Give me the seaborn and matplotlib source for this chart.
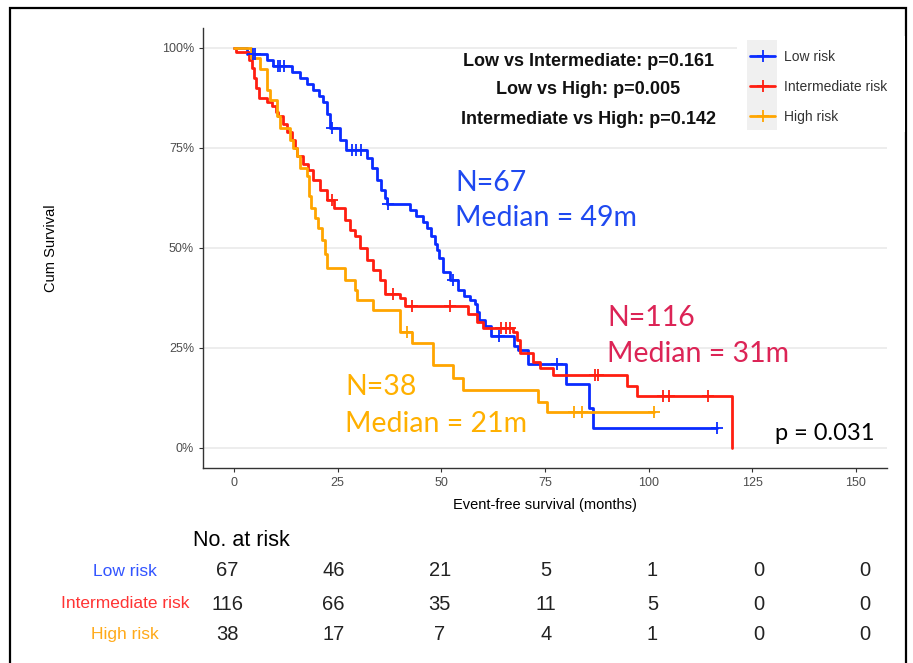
import numpy as np
import pandas as pd
import matplotlib.pyplot as plt
import seaborn as sns
from matplotlib.lines import Line2D
from matplotlib.patches import Rectangle

# Kaplan-Meier step points (time in months, survival in %)
low_t = [0, 3, 8, 9.5, 14, 16, 17.5, 19, 20.5, 21.5, 22.5, 23.2, 25.5, 27, 32, 33.3, 34.5, 35.5,
         36.5, 37, 42.5, 44, 45.5, 46.5, 47.5, 48.5, 49, 49.5, 50.3, 52, 54, 55.5, 57, 58, 58.5,
         59, 60.5, 62, 67.5, 68.5, 71, 80, 85.5, 86.5]
low_s = [100, 98.5, 97, 95.5, 94, 92.5, 91, 89.5, 88, 86.5, 83.5, 80, 77, 74.5, 72.5, 70, 67, 64.5,
         62.5, 61, 59.5, 58, 56.5, 55, 53, 51, 49.5, 47.5, 44, 42, 39.5, 38, 37, 36, 34,
         32, 30.5, 28, 25.5, 24.5, 21, 16, 10, 5]
low_end = 116.5
low_cens = [4.5, 5, 10.5, 11, 12, 23.6, 28.5, 29.5, 30.5, 37.2, 52.8, 64, 78, 116.5]

int_t = [0, 0.5, 3.5, 4.2, 4.8, 5.3, 6, 8, 9.2, 10, 10.6, 11.8, 12.8, 14, 14.7, 15.2, 16.6, 17.8,
         19, 20.7, 22.4, 24, 26.7, 28, 29.2, 30.4, 32, 33.5, 35.2, 36.4, 40, 41.2, 56.4, 58.6,
         60, 67.2, 68.2, 69, 72, 73.7, 76.9, 94.7, 97.1, 120]
int_s = [100, 99.1, 97, 95, 92.5, 90, 87.5, 86.5, 85.5, 84, 83, 81, 79, 77, 75, 73, 71, 69.5,
         67, 64.5, 62, 60, 57, 54.5, 53, 50, 47, 44.5, 42, 38.5, 37.5, 35.5, 33.5, 31.5,
         30, 29, 27, 23.7, 21.5, 20, 18.3, 15.5, 13, 0]
int_end = 120
int_cens = [23.6, 38.3, 43, 52, 64.5, 65.5, 66.5, 87, 87.8, 103.4, 105, 114.2]

high_t = [0, 4, 6.3, 8, 8.7, 10.4, 11, 13.5, 14.2, 15.2, 15.9, 17.6, 18, 18.5, 19.5, 20.2, 21.2,
          22, 22.4, 26.7, 29.2, 29.6, 33.5, 40, 43, 48, 52.8, 55.2, 73.3, 75.4]
high_s = [100, 97.4, 94.7, 89.5, 87, 83, 80, 77, 75, 73, 70, 68, 63, 60, 57.5, 55, 52,
          48.5, 45, 42, 39.5, 37, 34.5, 29, 26.2, 20.8, 17.5, 14.5, 11.5, 9]
high_end = 101.4
high_cens = [41.8, 82, 84, 101.4]

groups = ['Low risk', 'Intermediate risk', 'High risk']
line_colors = ['#0a2cff', '#ff1e10', '#ffa500']
text_colors = ['#1f49f0', '#dc2456', '#ffb000']
table_colors = ['#3355ff', '#ff3333', '#ffaa1a']

n_labels = ['N=67', 'N=116', 'N=38']
median_labels = ['Median = 49m', 'Median = 31m', 'Median = 21m']
pair_tests = ['Low vs Intermediate: p=0.161', 'Low vs High: p=0.005',
              'Intermediate vs High: p=0.142']
overall_p = 'p = 0.031'

risk_times = [0, 25, 50, 75, 100, 125, 150]
risk_low = [67, 46, 21, 5, 1, 0, 0]
risk_int = [116, 66, 35, 11, 5, 0, 0]
risk_high = [38, 17, 7, 4, 1, 0, 0]

series = [(low_t, low_s, low_end, low_cens),
          (int_t, int_s, int_end, int_cens),
          (high_t, high_s, high_end, high_cens)]

curves = []
marks = []
for g, (t, s, end, cens) in zip(groups, series):
    tt = list(t) + ([end] if end > t[-1] else [])
    ss = list(s) + ([s[-1]] if end > t[-1] else [])
    curves.append(pd.DataFrame({'time': tt, 'surv': np.array(ss) / 100, 'group': g}))
    idx = np.searchsorted(t, cens, side='right') - 1
    marks.append(pd.DataFrame({'time': cens, 'surv': np.array(s)[idx] / 100, 'group': g}))
curves = pd.concat(curves, ignore_index=True)
marks = pd.concat(marks, ignore_index=True)

sns.set_theme(style='white')
plt.rcParams['font.family'] = ['Liberation Sans', 'DejaVu Sans']

fig = plt.figure(figsize=(9.13, 6.63), dpi=100)
ax = fig.add_axes([203 / 913, 195 / 663, 684 / 913, 440 / 663])

palette = dict(zip(groups, line_colors))
sns.lineplot(data=curves, x='time', y='surv', hue='group', palette=palette,
             drawstyle='steps-post', estimator=None, sort=False, lw=2, legend=False, ax=ax)
for g, c in zip(groups, line_colors):
    sub = marks[marks.group == g]
    ax.plot(sub.time, sub.surv, ls='none', marker='+', ms=8, mew=1.3, color=c)

ax.set_xlim(-7.5, 157.5)
ax.set_ylim(-0.05, 1.05)
ax.set_xticks(risk_times)
ax.set_yticks([0, 0.25, 0.5, 0.75, 1])
ax.set_yticklabels(['0%', '25%', '50%', '75%', '100%'])
ax.tick_params(axis='both', labelsize=9, labelcolor='#4d4d4d', color='#333333',
               length=3, width=0.8, direction='out', left=True, bottom=True)
ax.yaxis.grid(True, color='#e8e8e8', lw=1.1)
ax.xaxis.grid(False)
ax.set_axisbelow(True)
for side in ['top', 'right']:
    ax.spines[side].set_visible(False)
for side in ['left', 'bottom']:
    ax.spines[side].set_color('#333333')
    ax.spines[side].set_linewidth(1)

ax.set_xlabel('Event-free survival (months)', fontsize=10.5, color='black')
ax.set_ylabel('Cum Survival', fontsize=10.5, color='black')
ax.xaxis.set_label_coords(0.5, -0.068)
ax.yaxis.set_label_coords(-0.212, 0.5)

# pairwise log-rank tests
for i, txt in enumerate(pair_tests):
    ax.text(85.4, [0.965, 0.895, 0.8225][i], txt, ha='center', va='center',
            fontsize=13, fontweight='bold', color='#111111')

# group annotations
ann_pos = [(53.3, 0.6625, 0.575), (90, 0.325, 0.235), (26.8, 0.1525, 0.06)]
for (x, y1, y2), nl, ml, c in zip(ann_pos, n_labels, median_labels, text_colors):
    ax.text(x, y1, nl, ha='left', va='center', fontsize=20.5, color=c, family=['Lato', 'DejaVu Sans'])
    ax.text(x, y2, ml, ha='left', va='center', fontsize=20.5, color=c, family=['Lato', 'DejaVu Sans'])
ax.text(130.5, 0.0375, overall_p, ha='left', va='center', fontsize=17, color='black',
        family=['Lato', 'DejaVu Sans'])

# legend: white box over the grid with a grey key strip
fig.add_artist(Rectangle((737 / 913, 1 - 132 / 663), 168 / 913, 96 / 663,
                         transform=fig.transFigure, facecolor='white', edgecolor='none', zorder=1.5))
fig.add_artist(Rectangle((747 / 913, 1 - 130 / 663), 30 / 913, 90 / 663,
                         transform=fig.transFigure, facecolor='#f0f0f0', edgecolor='none', zorder=1.6))
handles = [Line2D([], [], color=c, lw=2, marker='+', ms=9, mew=1.3) for c in line_colors]
leg = fig.legend(handles, groups, loc='upper left', bbox_to_anchor=(750 / 913, 1 - 50 / 663),
                 frameon=False, fontsize=10, handlelength=1.8, handletextpad=0.65,
                 labelspacing=1.15, borderpad=0, borderaxespad=0)
for txt in leg.get_texts():
    txt.set_color('#333333')

# number at risk table
tab = fig.add_axes([227 / 913, 0, 638 / 913, 200 / 663])
tab.set_xlim(0, 150)
tab.set_ylim(663, 463)
tab.axis('off')
tab.text(-8, 540, 'No. at risk', ha='left', va='center', fontsize=15.5, color='black')
rows = [risk_low, risk_int, risk_high]
row_y = [571, 604, 635]
for g, vals, y, c in zip(groups, rows, row_y, table_colors):
    tab.text(-24, y, g, ha='center', va='center', fontsize=12.5, color=c)
    for t, v in zip(risk_times, vals):
        tab.text(t, y, str(v), ha='center', va='center', fontsize=14.5, color='#222222')

# screenshot frame
fig.add_artist(Rectangle((10 / 913, -0.02), 896 / 913, 1 - 8 / 663 + 0.02,
                         transform=fig.transFigure, fill=False, edgecolor='black', lw=1.6))

fig.savefig('out.png', dpi=100)
